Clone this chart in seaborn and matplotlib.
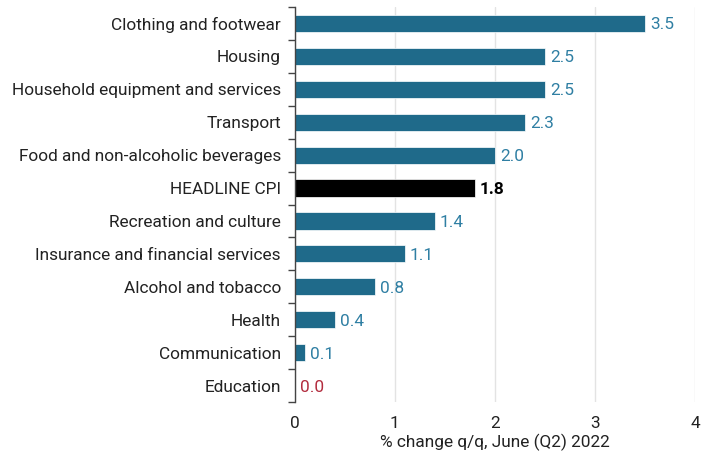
import matplotlib
matplotlib.use("Agg")
import matplotlib.pyplot as plt
import seaborn as sns
import numpy as np
import pandas as pd
from matplotlib.ticker import FixedLocator

categories = ["Clothing and footwear", "Housing", "Household equipment and services",
              "Transport", "Food and non-alcoholic beverages", "HEADLINE CPI",
              "Recreation and culture", "Insurance and financial services",
              "Alcohol and tobacco", "Health", "Communication", "Education"]
values = [3.5, 2.5, 2.5, 2.3, 2.0, 1.8, 1.4, 1.1, 0.8, 0.4, 0.1, 0.0]
x_ticks = [0, 1, 2, 3, 4]
x_label = "% change q/q, June (Q2) 2022"

bar_col = "#1f6a8a"
lab_col = "#2f7fa3"
colors = ["#000000" if c == "HEADLINE CPI" else bar_col for c in categories]

sns.set_style("white")
plt.rcParams["font.family"] = ["Roboto", "DejaVu Sans"]

df = pd.DataFrame({"cat": categories, "val": values})
fig = plt.figure(figsize=(7.12, 4.57), dpi=100)
ax = fig.add_axes([0.414, 0.12, 0.562, 0.865])
sns.barplot(data=df, x="val", y="cat", hue="cat", palette=colors, legend=False,
            width=0.52, ax=ax, edgecolor="white", linewidth=0.5, saturation=1)

fs = 12.4
ax.set_xlim(0, 4)
ax.set_ylim(11.5, -0.5)
ax.set_xticks(x_ticks)
ax.set_xticklabels([str(t) for t in x_ticks], fontsize=fs, color="#222222")
ax.tick_params(axis="x", length=0, pad=10)
ax.tick_params(axis="y", which="major", left=True, length=0, pad=10, labelsize=fs, labelcolor="#222222")
ax.yaxis.set_minor_locator(FixedLocator(np.arange(-0.5, 12, 1)))
ax.tick_params(axis="y", which="minor", left=True, length=5, width=1, color="#444444", direction="out")
ax.set_ylabel("")
ax.set_xlabel(x_label, fontsize=fs, color="#222222", labelpad=2)
ax.grid(axis="x", color="#e3e3e3", linewidth=1)
ax.set_axisbelow(True)
for s in ["top", "right", "bottom"]:
    ax.spines[s].set_visible(False)
ax.spines["left"].set_color("#444444")
ax.spines["left"].set_linewidth(1)

for i, (c, v) in enumerate(zip(categories, values)):
    if c == "HEADLINE CPI":
        col, w = "#000000", "bold"
    elif v == 0:
        col, w = "#b22c3e", "normal"
    else:
        col, w = lab_col, "normal"
    ax.text(v + 0.05, i + 0.05, f"{v:.1f}", va="center", ha="left", fontsize=fs, color=col, fontweight=w)

fig.savefig("out.png", dpi=100)
